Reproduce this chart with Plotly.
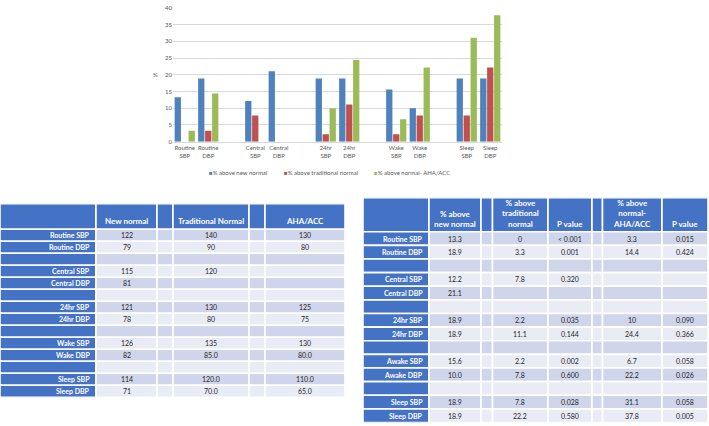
import plotly.graph_objects as go
from itertools import accumulate

W, H = 709, 426
FONT = "Lato"

# ---------------- bar chart data ----------------
bar_categories = ["Routine<br>SBP", "Routine<br>DBP", " ", "Central<br>SBP", "Central<br>DBP", "  ",
                  "24hr<br>SBP", "24hr<br>DBP", "   ", "Wake<br>SBP", "Wake<br>DBP", "    ",
                  "Sleep<br>SBP", "Sleep<br>DBP"]
pct_above_new_normal = [13.3, 18.9, None, 12.2, 21.1, None, 18.9, 18.9, None, 15.6, 10.0, None, 18.9, 18.9]
pct_above_traditional = [0, 3.3, None, 7.8, None, None, 2.2, 11.1, None, 2.2, 7.8, None, 7.8, 22.2]
pct_above_aha_acc = [3.3, 14.4, None, None, None, None, 10, 24.4, None, 6.7, 22.2, None, 31.1, 37.8]
series_names = ["% above new normal", "% above traditional normal", "% above normal- AHA/ACC"]
y_ticks = [0, 5, 10, 15, 20, 25, 30, 35, 40]

# ---------------- left table data ----------------
left_headers = ["", "New normal", "", "Traditional Normal", "", "AHA/ACC"]
left_row_labels = ["Routine SBP", "Routine DBP", "", "Central SBP", "Central DBP", "",
                   "24hr SBP", "24hr DBP", "", "Wake SBP", "Wake DBP", "", "Sleep SBP", "Sleep DBP"]
left_new_normal = ["122", "79", "", "115", "81", "", "121", "78", "", "126", "82", "", "114", "71"]
left_traditional = ["140", "90", "", "120", "", "", "130", "80", "", "135", "85.0", "", "120.0", "70.0"]
left_aha_acc = ["130", "80", "", "", "", "", "125", "75", "", "130", "80.0", "", "110.0", "65.0"]

# ---------------- right table data ----------------
right_headers = ["", "% above<br>new normal", "", "% above<br>traditional<br>normal", "P value", "",
                 "% above<br>normal-<br>AHA/ACC", "P value"]
right_row_labels = ["Routine SBP", "Routine DBP", "", "Central SBP", "Central DBP", "",
                    "24hr SBP", "24hr DBP", "", "Awake SBP", "Awake DBP", "", "Sleep SBP", "Sleep DBP"]
right_new_normal = ["13.3", "18.9", "", "12.2", "21.1", "", "18.9", "18.9", "", "15.6", "10.0", "", "18.9", "18.9"]
right_traditional = ["0", "3.3", "", "7.8", "", "", "2.2", "11.1", "", "2.2", "7.8", "", "7.8", "22.2"]
right_p_traditional = ["< 0.001", "0.001", "", "0.320", "", "", "0.035", "0.144", "", "0.002", "0.600", "", "0.028", "0.580"]
right_aha_acc = ["3.3", "14.4", "", "", "", "", "10", "24.4", "", "6.7", "22.2", "", "31.1", "37.8"]
right_p_aha_acc = ["0.015", "0.424", "", "", "", "", "0.090", "0.366", "", "0.058", "0.026", "", "0.058", "0.005"]

# ---------------- styles ----------------
BAR_COLORS = ["#4F81BD", "#C0504D", "#9BBB59"]
HDR_BLUE = "#4472C4"
ROW_DARK = "#CFD5EA"
ROW_LIGHT = "#E9EBF5"
TEXT_DARK = "#262626"
AXIS_TEXT = "#595959"

LEFT_SPEC = dict(x0=0, y0=203, col_widths=[96, 61, 16, 76, 16, 80], header_h=26, row_h=12.2,
                 header_size=8, cell_size=7, label_pad=4)
RIGHT_SPEC = dict(x0=363, y0=197, col_widths=[66, 52, 11.5, 55.5, 44, 10.5, 59.5, 46], header_h=34.5,
                  row_h=13.86, header_size=8, cell_size=7, label_pad=4)

fig = go.Figure()

for name, vals, color in zip(series_names, [pct_above_new_normal, pct_above_traditional, pct_above_aha_acc], BAR_COLORS):
    fig.add_trace(go.Bar(x=bar_categories, y=vals, name=name, marker=dict(color=color, line=dict(width=0)),
                         showlegend=False, xaxis="x", yaxis="y"))

shapes = []
annotations = []


def bold_lines(t):
    return "<br>".join(f"<b>{s}</b>" for s in t.split("<br>"))


def add_table(axis_id, spec, headers, columns):
    widths = spec["col_widths"]
    edges = [0] + list(accumulate(widths))
    total_w = edges[-1]
    n = len(columns[0])
    hh, rh = spec["header_h"], spec["row_h"]
    total_h = hh + n * rh
    xa, ya = f"x{axis_id}", f"y{axis_id}"
    fig.add_trace(go.Scatter(x=[None], y=[None], xaxis=xa, yaxis=ya, showlegend=False, hoverinfo="skip"))
    fig.update_layout({
        f"xaxis{axis_id}": dict(domain=[spec["x0"] / W, (spec["x0"] + total_w) / W], range=[0, total_w],
                                visible=False, fixedrange=True, anchor=ya),
        f"yaxis{axis_id}": dict(domain=[1 - (spec["y0"] + total_h) / H, 1 - spec["y0"] / H], range=[total_h, 0],
                                visible=False, fixedrange=True, anchor=xa),
    })
    line = dict(color="white", width=1.6)
    for c in range(len(widths)):
        x0, x1 = edges[c], edges[c + 1]
        shapes.append(dict(type="rect", xref=xa, yref=ya, x0=x0, x1=x1, y0=0, y1=hh,
                           fillcolor=HDR_BLUE, line=line, layer="below"))
        if headers[c]:
            annotations.append(dict(xref=xa, yref=ya, x=(x0 + x1) / 2, y=hh - 1.2, text=bold_lines(headers[c]),
                                    xanchor="center", yanchor="bottom", showarrow=False, align="center",
                                    font=dict(size=spec["header_size"], color="white", family=FONT)))
        for r in range(n):
            y0 = hh + r * rh
            y1 = y0 + rh
            if c == 0:
                fill = HDR_BLUE
            else:
                fill = ROW_DARK if r % 2 == 0 else ROW_LIGHT
            shapes.append(dict(type="rect", xref=xa, yref=ya, x0=x0, x1=x1, y0=y0, y1=y1,
                               fillcolor=fill, line=line, layer="below"))
            txt = columns[c][r]
            if not txt:
                continue
            if c == 0:
                annotations.append(dict(xref=xa, yref=ya, x=x1 - spec["label_pad"], y=(y0 + y1) / 2,
                                        text=f"<b>{txt}</b>", xanchor="right", yanchor="middle", showarrow=False,
                                        font=dict(size=spec["cell_size"], color="white", family=FONT)))
            else:
                annotations.append(dict(xref=xa, yref=ya, x=(x0 + x1) / 2, y=(y0 + y1) / 2,
                                        text=txt, xanchor="center", yanchor="middle", showarrow=False,
                                        font=dict(size=spec["cell_size"], color=TEXT_DARK, family=FONT)))


blank = [""] * len(left_row_labels)
add_table(2, LEFT_SPEC, left_headers,
          [left_row_labels, left_new_normal, blank, left_traditional, blank, left_aha_acc])
add_table(3, RIGHT_SPEC, right_headers,
          [right_row_labels, right_new_normal, blank, right_traditional, right_p_traditional, blank,
           right_aha_acc, right_p_aha_acc])

# legend (custom, small square markers like the original)
legend_x = [207, 282, 372]
for name, color, lx in zip(series_names, BAR_COLORS, legend_x):
    annotations.append(dict(xref="paper", yref="paper", x=lx / W, y=1 - 171 / H, xanchor="left", yanchor="middle",
                            showarrow=False,
                            text=f"<span style='color:{color}'>■</span>{name}",
                            font=dict(size=6, color=AXIS_TEXT, family=FONT)))
# y-axis title
annotations.append(dict(xref="paper", yref="paper", x=155 / W, y=1 - 72 / H, xanchor="center", yanchor="middle",
                        showarrow=False, text="%", font=dict(size=6, color=AXIS_TEXT, family=FONT)))

fig.update_layout(
    width=W, height=H,
    margin=dict(l=0, r=0, t=0, b=0),
    paper_bgcolor="white", plot_bgcolor="white",
    font=dict(family=FONT, color=AXIS_TEXT, size=6),
    barmode="group", bargap=0.11, bargroupgap=0.1,
    showlegend=False,
    xaxis=dict(domain=[173 / W, 502 / W], type="category", categoryorder="array", categoryarray=bar_categories,
               range=[-0.5, len(bar_categories) - 0.5], showgrid=False, showline=True, linecolor="#D9D9D9",
               linewidth=1, ticks="", tickfont=dict(size=6, color=AXIS_TEXT), anchor="y", fixedrange=True),
    yaxis=dict(domain=[1 - 140 / H, 1 - 4 / H], range=[0, 40], tickvals=y_ticks, showgrid=True,
               gridcolor="#D9D9D9", gridwidth=0.8, zeroline=False, showline=False, ticks="",
               tickfont=dict(size=6, color=AXIS_TEXT), anchor="x", fixedrange=True),
    shapes=shapes,
    annotations=annotations,
)

fig.write_html("out.html", config={"displayModeBar": False},
               post_script="document.body.style.margin='0';document.body.style.overflow='hidden';")
